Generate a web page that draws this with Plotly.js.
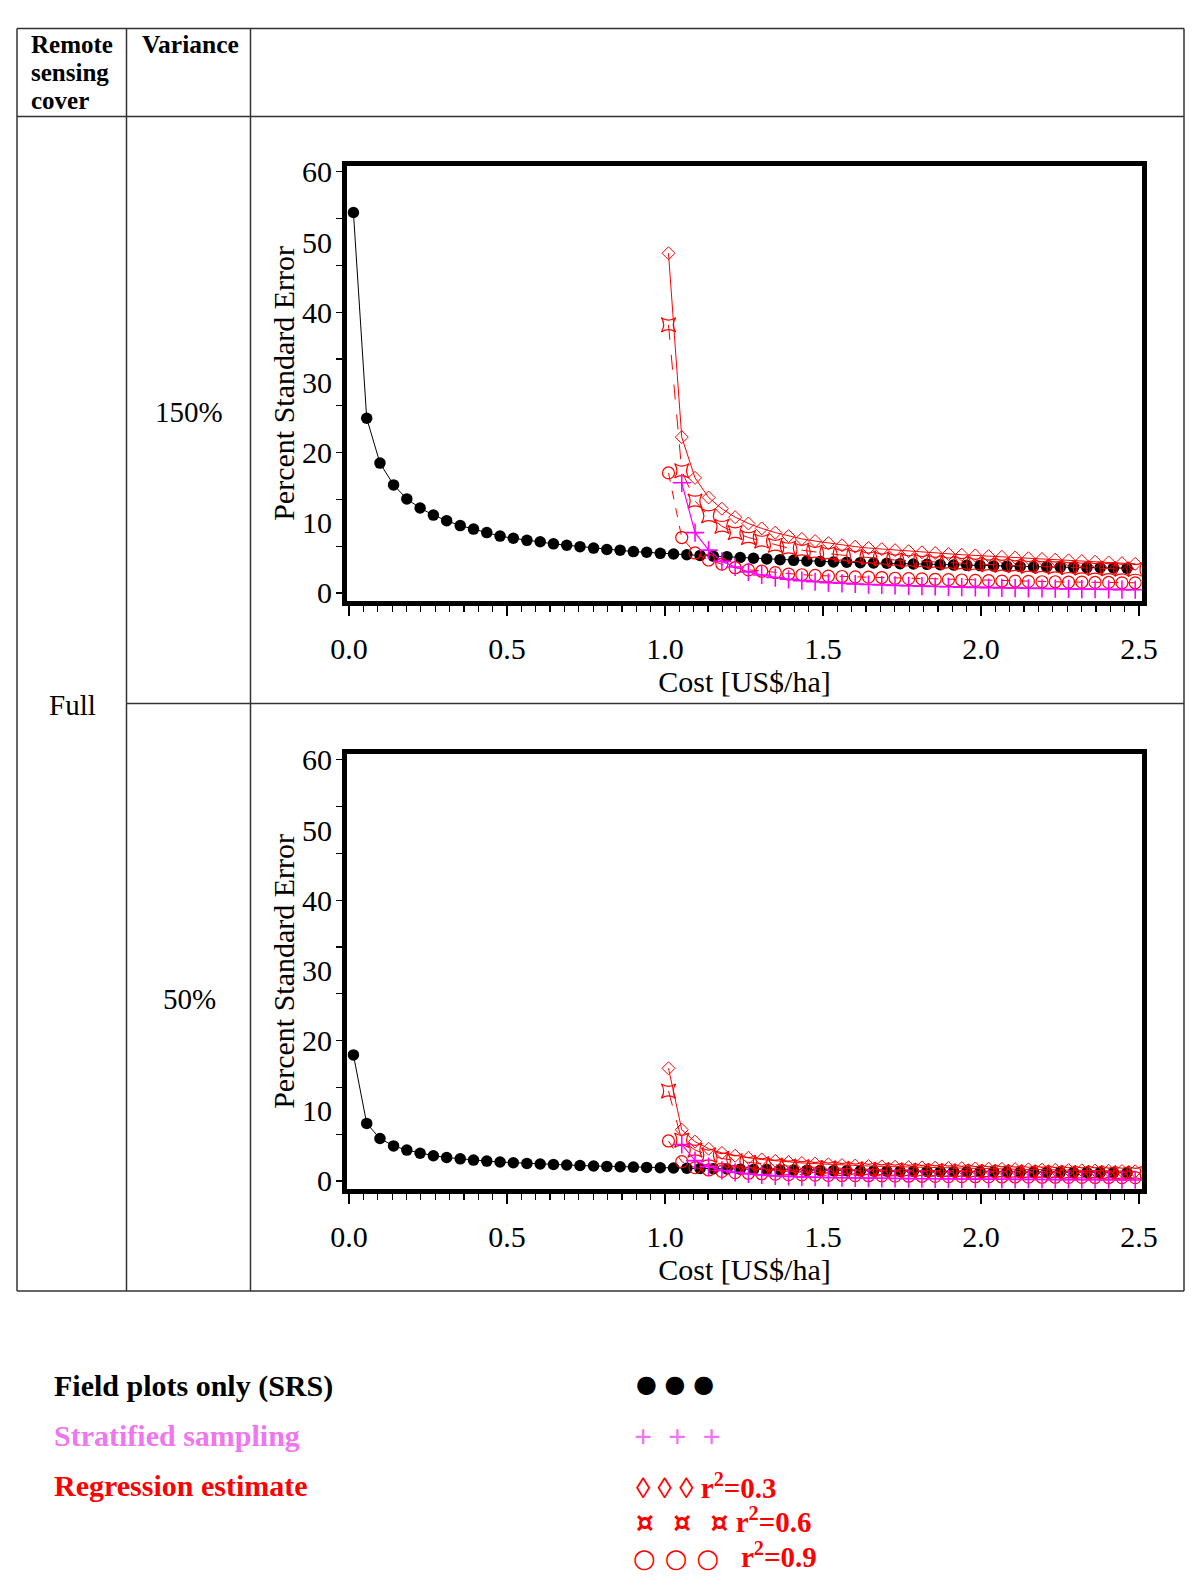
<!DOCTYPE html>
<html>
<head>
<meta charset="utf-8">
<script src="https://cdn.plot.ly/plotly-3.0.1.min.js"></script>
<style>
  html, body { margin: 0; padding: 0; background: #fff; }
  #chart { width: 1200px; height: 1585px; }
</style>
</head>
<body>
<div id="chart"></div>
<script>
// cost axis (US$/ha) for field plots and for the remote sensing designs
const costSRS = [0.014, 0.056, 0.098, 0.141, 0.183, 0.225, 0.267, 0.309, 0.352, 0.394,
  0.436, 0.478, 0.520, 0.563, 0.605, 0.647, 0.689, 0.731, 0.774, 0.816,
  0.858, 0.900, 0.942, 0.985, 1.027, 1.069, 1.111, 1.153, 1.196, 1.238,
  1.280, 1.322, 1.364, 1.407, 1.449, 1.491, 1.533, 1.575, 1.618, 1.660,
  1.702, 1.744, 1.786, 1.829, 1.871, 1.913, 1.955, 1.997, 2.040, 2.082,
  2.124, 2.166, 2.208, 2.251, 2.293, 2.335, 2.377, 2.419, 2.462];
const costReg = [1.011, 1.053, 1.095, 1.138, 1.180, 1.222, 1.264, 1.306, 1.349, 1.391,
  1.433, 1.475, 1.517, 1.560, 1.602, 1.644, 1.686, 1.728, 1.771, 1.813,
  1.855, 1.897, 1.939, 1.982, 2.024, 2.066, 2.108, 2.150, 2.193, 2.235,
  2.277, 2.319, 2.361, 2.404, 2.446, 2.488];
const costStrat = [1.053, 1.095, 1.138, 1.180, 1.222, 1.264, 1.306, 1.349, 1.391,
  1.433, 1.475, 1.517, 1.560, 1.602, 1.644, 1.686, 1.728, 1.771, 1.813,
  1.855, 1.897, 1.939, 1.982, 2.024, 2.066, 2.108, 2.150, 2.193, 2.235,
  2.277, 2.319, 2.361, 2.404, 2.446, 2.488];

// variance 150%
const srs150 = [54.2, 24.9, 18.5, 15.4, 13.4, 12.1, 11.1, 10.3, 9.6, 9.1,
  8.6, 8.1, 7.8, 7.5, 7.3, 7.0, 6.8, 6.6, 6.4, 6.2,
  6.1, 5.9, 5.8, 5.65, 5.55, 5.45, 5.35, 5.25, 5.17, 5.05,
  4.95, 4.85, 4.75, 4.65, 4.56, 4.48, 4.42, 4.37, 4.32, 4.27,
  4.23, 4.18, 4.13, 4.08, 4.03, 3.98, 3.94, 3.90, 3.86, 3.82,
  3.78, 3.74, 3.71, 3.68, 3.65, 3.62, 3.59, 3.56, 3.53];
const strat150 = [15.7, 8.6, 6.1, 4.5, 3.7, 3.0, 2.56, 2.2, 1.95, 1.76,
  1.6, 1.47, 1.38, 1.28, 1.2, 1.14, 1.08, 1.02, 0.97, 0.92,
  0.88, 0.84, 0.8, 0.76, 0.73, 0.7, 0.67, 0.64, 0.61, 0.58,
  0.56, 0.53, 0.51, 0.48, 0.46];
const reg03_150 = [48.4, 22.2, 16.4, 13.6, 12.0, 10.8, 9.9, 9.2, 8.6, 8.1,
  7.7, 7.4, 7.1, 6.8, 6.6, 6.4, 6.25, 6.1, 5.95, 5.8,
  5.7, 5.55, 5.45, 5.35, 5.25, 5.15, 5.05, 4.95, 4.85, 4.75,
  4.65, 4.55, 4.45, 4.35, 4.25, 4.15];
const reg06_150 = [38.2, 17.4, 13.1, 11.0, 9.5, 8.6, 7.9, 7.4, 6.8, 6.4,
  6.1, 5.8, 5.6, 5.4, 5.2, 5.0, 4.85, 4.7, 4.6, 4.5,
  4.4, 4.3, 4.2, 4.1, 4.0, 3.95, 3.9, 3.8, 3.75, 3.7,
  3.6, 3.55, 3.5, 3.45, 3.4, 3.35];
const reg09_150 = [17.1, 7.9, 5.7, 4.7, 4.1, 3.6, 3.3, 3.1, 2.9, 2.7,
  2.6, 2.5, 2.4, 2.35, 2.3, 2.25, 2.2, 2.1, 2.05, 2.0,
  1.95, 1.9, 1.85, 1.8, 1.75, 1.7, 1.7, 1.65, 1.6, 1.6,
  1.55, 1.55, 1.5, 1.5, 1.45, 1.45];

// variance 50%
const srs50 = [17.96, 8.2, 6.05, 5.0, 4.4, 3.95, 3.6, 3.35, 3.15, 2.98,
  2.83, 2.7, 2.6, 2.5, 2.42, 2.35, 2.28, 2.2, 2.14, 2.08,
  2.03, 1.98, 1.93, 1.88, 1.85, 1.82, 1.78, 1.75, 1.72, 1.68,
  1.65, 1.62, 1.58, 1.55, 1.52, 1.5, 1.47, 1.46, 1.44, 1.42,
  1.41, 1.39, 1.38, 1.36, 1.34, 1.33, 1.31, 1.3, 1.29, 1.27,
  1.26, 1.25, 1.24, 1.23, 1.22, 1.21, 1.2, 1.19, 1.18];
const strat50 = [5.2, 2.9, 2.05, 1.5, 1.23, 1.0, 0.85, 0.73, 0.65, 0.59,
  0.53, 0.49, 0.46, 0.43, 0.4, 0.38, 0.36, 0.34, 0.32, 0.31,
  0.29, 0.28, 0.27, 0.25, 0.24, 0.23, 0.22, 0.21, 0.2, 0.19,
  0.19, 0.18, 0.17, 0.16, 0.15];
const reg03_50 = [16.05, 7.3, 5.6, 4.6, 4.0, 3.6, 3.3, 3.06, 2.86, 2.7,
  2.57, 2.47, 2.37, 2.27, 2.2, 2.13, 2.08, 2.03, 1.98, 1.93,
  1.9, 1.85, 1.82, 1.78, 1.75, 1.72, 1.68, 1.65, 1.62, 1.58,
  1.55, 1.52, 1.48, 1.45, 1.42, 1.38];
const reg06_50 = [12.8, 5.8, 4.4, 3.7, 3.2, 2.9, 2.65, 2.47, 2.27, 2.13,
  2.03, 1.93, 1.87, 1.8, 1.73, 1.67, 1.62, 1.57, 1.53, 1.5,
  1.47, 1.43, 1.4, 1.37, 1.33, 1.32, 1.3, 1.27, 1.25, 1.23,
  1.2, 1.18, 1.17, 1.15, 1.13, 1.12];
const reg09_50 = [5.7, 2.75, 1.9, 1.57, 1.37, 1.2, 1.1, 1.03, 0.97, 0.9,
  0.87, 0.83, 0.8, 0.78, 0.77, 0.75, 0.73, 0.7, 0.68, 0.67,
  0.65, 0.63, 0.62, 0.6, 0.58, 0.57, 0.57, 0.55, 0.53, 0.53,
  0.52, 0.52, 0.5, 0.5, 0.48, 0.48];

const xTickVals = [0, 0.5, 1.0, 1.5, 2.0, 2.5];
const yTickVals = [0, 10, 20, 30, 40, 50, 60];

const W = 1200, H = 1585;
const px = v => v / W;
const py = v => 1 - v / H;

const RED = "#ff0000";
const MAG = "#ff00ff";
const VIOLET = "#f075f0";
const FONT = "Liberation Serif";
const NB = "\u00a0";

function series(x, y, ax, opts) {
    return Object.assign({
        x: x, y: y, type: "scatter", mode: "lines+markers",
        xaxis: ax[0], yaxis: ax[1], hoverinfo: "skip"
    }, opts);
}

function panelTraces(ax, srs, strat, r03, r06, r09) {
    return [
        series(costSRS, srs, ax, {
            line: { color: "black", width: 1 },
            marker: { symbol: "circle", size: 11.5, color: "black" }
        }),
        series(costReg, r03, ax, {
            line: { color: RED, width: 1 },
            marker: { symbol: "diamond-open", size: 10, color: RED, line: { width: 1 } }
        }),
        series(costReg, r06, ax, {
            line: { color: RED, width: 1, dash: "longdash" },
            marker: { symbol: "star-square-open", size: 13, color: RED, line: { width: 1.2 } }
        }),
        series(costReg, r09, ax, {
            line: { color: RED, width: 1, dash: "dash" },
            marker: { symbol: "circle-open", size: 12, color: RED, line: { width: 1.2 } }
        }),
        series(costStrat, strat, ax, {
            line: { color: MAG, width: 1.2 },
            marker: { symbol: "cross-thin-open", size: 13, color: MAG, line: { width: 1.6, color: MAG } }
        })
    ];
}

const data = [].concat(
    panelTraces(["x", "y"], srs150, strat150, reg03_150, reg06_150, reg09_150),
    panelTraces(["x2", "y2"], srs50, strat50, reg03_50, reg06_50, reg09_50)
);

// minor tick positions (style only)
const yMinor = [];
for (let i = 0; i <= 9; i++) yMinor.push(i * 20 / 3);
const xMinor = [];
for (let i = 0; i <= 55; i++) xMinor.push(i * 0.5 / 11);

function xAxis(anchor) {
    return {
        domain: [px(347.3), px(1141.7)],
        range: [-0.0054, 2.5085],
        anchor: anchor,
        showline: true, linewidth: 5.3, linecolor: "black", mirror: true,
        showgrid: false, zeroline: false,
        tickmode: "array", tickvals: xTickVals,
        ticktext: xTickVals.map(v => v.toFixed(1)),
        ticks: "outside", ticklen: 10, tickwidth: 1.5, tickcolor: "black",
        minor: { tickmode: "array", tickvals: xMinor, ticks: "outside", ticklen: 6, tickwidth: 1.2, tickcolor: "black" },
        ticklabelstandoff: 7,
        tickfont: { family: FONT, size: 30, color: "black" },
        title: { text: "Cost [US$/ha]", font: { family: FONT, size: 30, color: "black" }, standoff: 9 },
        automargin: false
    };
}

function yAxis(top, bottom, anchor) {
    return {
        domain: [py(bottom), py(top)],
        range: [-1.10, 60.83],
        anchor: anchor,
        showline: true, linewidth: 5.3, linecolor: "black", mirror: true,
        showgrid: false, zeroline: false,
        tickmode: "array", tickvals: yTickVals,
        ticks: "",
        minor: { tickmode: "array", tickvals: yMinor, ticks: "outside", ticklen: 6, tickwidth: 1.2, tickcolor: "black" },
        ticklabelstandoff: 4,
        tickfont: { family: FONT, size: 30, color: "black" },
        title: { text: "Percent Standard Error", font: { family: FONT, size: 30, color: "black" }, standoff: 0 },
        automargin: false
    };
}

// table grid
const gridLine = { color: "#333", width: 1.5 };
function seg(x0, y0, x1, y1) {
    return { type: "line", xref: "paper", yref: "paper",
        x0: px(x0), y0: py(y0), x1: px(x1), y1: py(y1), line: gridLine, layer: "below" };
}
const shapes = [
    seg(17, 28.5, 1184, 28.5),
    seg(17, 116.5, 1184, 116.5),
    seg(126.5, 703.5, 1184, 703.5),
    seg(17, 1291, 1184, 1291),
    seg(17, 28.5, 17, 1291),
    seg(126.5, 28.5, 126.5, 1291),
    seg(250.5, 28.5, 250.5, 1291),
    seg(1184, 28.5, 1184, 1291)
];

function label(text, x, y, opts) {
    return Object.assign({
        text: text, xref: "paper", yref: "paper", x: px(x), y: py(y),
        showarrow: false, xanchor: "left", yanchor: "middle",
        font: { family: FONT, size: 29, color: "black" }
    }, opts);
}
const bold = (size, color) => ({ family: FONT, size: size, color: color || "black", weight: "bold" });

const annotations = [
    label("<b>Remote</b>", 29, 44.5, { font: bold(25) }),
    label("<b>sensing</b>", 29, 72.8, { font: bold(25) }),
    label("<b>cover</b>", 29, 101, { font: bold(25) }),
    label("<b>Variance</b>", 140, 44.5, { font: bold(25.5) }),
    label("150%", 189, 411.5, { xanchor: "center" }),
    label("Full", 72, 704.6, { xanchor: "center" }),
    label("50%", 189, 999, { xanchor: "center" }),
    label("<b>Field plots only (SRS)</b>", 52, 1386, { font: bold(30) }),
    label("<b>Stratified sampling</b>", 52, 1435.5, { font: bold(30, VIOLET) }),
    label("<b>Regression estimate</b>", 52, 1485, { font: bold(30, RED) }),
    label("●" + NB + "●" + NB + "●", 634, 1384, { font: { family: "DejaVu Sans", size: 24, color: "black" } }),
    label("<b>+" + NB + NB + "+" + NB + NB + "+</b>", 632, 1436, { font: bold(32, VIOLET) }),
    label("<b>◊" + NB + "◊" + NB + "◊" + NB + "r<sup>2</sup>=0.3</b>",
        634, 1486, { font: bold(29, RED) }),
    label("<span style=\"font-family:DejaVu Sans;font-size:28px;font-weight:bold\">¤" + NB + NB + "¤" + NB + NB + "¤</span>" + NB + "<b>r<sup>2</sup>=0.6</b>",
        634, 1520.5, { font: bold(29, RED) }),
    label("<span style=\"font-family:DejaVu Sans;font-size:26px;font-weight:bold\">○" + NB + "○" + NB + "○</span>" + NB + NB + NB + "<b>r<sup>2</sup>=0.9</b>",
        631, 1555, { font: bold(29, RED) })
];

const layout = {
    width: W, height: H,
    margin: { l: 0, r: 0, t: 0, b: 0 },
    paper_bgcolor: "white", plot_bgcolor: "white",
    showlegend: false,
    font: { family: FONT, color: "black" },
    xaxis: xAxis("y"),
    yaxis: yAxis(166, 600.7, "x"),
    xaxis2: xAxis("y2"),
    yaxis2: yAxis(754, 1188.7, "x2"),
    shapes: shapes,
    annotations: annotations
};

Plotly.newPlot("chart", data, layout, { staticPlot: true });
</script>
</body>
</html>
